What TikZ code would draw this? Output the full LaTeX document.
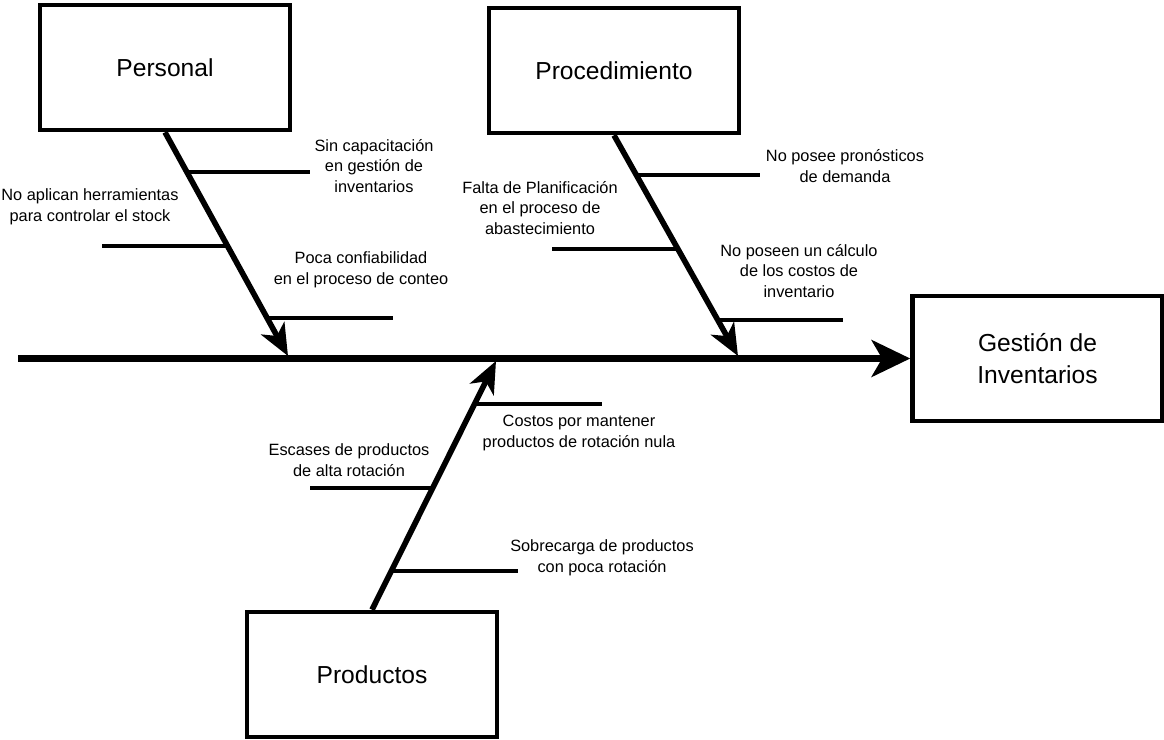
\documentclass[tikz,border=0pt]{standalone}
\usepackage{fontspec}
\setmainfont{Liberation Sans}
\usetikzlibrary{shapes,arrows.meta,positioning,calc}

\begin{document}
\begin{tikzpicture}[x=0.02cm,y=-0.02cm]
  \tikzstyle{causa}=[rectangle, draw, line width=2.6pt, minimum width=5cm, minimum height=2.5cm, font=\fontsize{14}{18}\selectfont, align=center]
  \tikzstyle{texto}=[align=center, font=\fontsize{9.3}{11.9}\selectfont, inner sep=0pt]
  \tikzstyle{espina}=[line width=3.6pt, -{Stealth[length=22pt, width=21pt, inset=6pt]}]
  \tikzstyle{hueso}=[line width=3.2pt, -{Stealth[length=18pt, width=15pt, inset=5pt]}]
  \tikzstyle{rama}=[line width=1.9pt]

  \useasboundingbox (0,0) rectangle (1164,740);

  % Cajas de causas y efecto
  \node[causa] (pers) at (165,67.5) {Personal};
  \node[causa] (proc) at (614,70.5) {Procedimiento};
  \node[causa] (prod) at (372,674.5) {Productos};
  \node[causa] (gest) at (1037.5,358.5) {Gestión de\\Inventarios};

  % Espina principal
  \coordinate (cola) at (18,358.5);
  \draw[espina] (cola) -- (gest.west);

  % Huesos
  \coordinate (pfin) at (288,356);
  \coordinate (rfin) at (738,356);
  \coordinate (dfin) at (496,361);
  \draw[hueso] (pers.south) -- (pfin);
  \draw[hueso] (proc.south) -- (rfin);
  \draw[hueso] (prod.north) -- (dfin);

  % Ramas de Personal
  \coordinate (pa1) at (188,172);  \coordinate (pe1) at (310,172);
  \coordinate (pa2) at (227,246);  \coordinate (pe2) at (102,246);
  \coordinate (pa3) at (267,318);  \coordinate (pe3) at (393,318);
  \draw[rama] (pa1) -- (pe1);
  \draw[rama] (pa2) -- (pe2);
  \draw[rama] (pa3) -- (pe3);
  \node[texto] (tp1) at (374,166) {Sin capacitación\\en gestión de\\inventarios};
  \node[texto] (tp2) at (90,207) {No aplican herramientas\\para controlar el stock};
  \node[texto] (tp3) at (361,270) {Poca confiabilidad\\en el proceso de conteo};

  % Ramas de Procedimiento
  \coordinate (ra1) at (638,175);  \coordinate (re1) at (760,175);
  \coordinate (ra2) at (679,249);  \coordinate (re2) at (552,249);
  \coordinate (ra3) at (718,320);  \coordinate (re3) at (843,320);
  \draw[rama] (ra1) -- (re1);
  \draw[rama] (ra2) -- (re2);
  \draw[rama] (ra3) -- (re3);
  \node[texto] (tr1) at (845,166) {No posee pronósticos\\de demanda};
  \node[texto] (tr2) at (540,208) {Falta de Planificación\\en el proceso de\\abastecimiento};
  \node[texto] (tr3) at (799,271) {No poseen un cálculo\\de los costos de\\inventario};

  % Ramas de Productos
  \coordinate (da1) at (476,404);  \coordinate (de1) at (602,404);
  \coordinate (da2) at (433,488);  \coordinate (de2) at (310,488);
  \coordinate (da3) at (393,571);  \coordinate (de3) at (518,571);
  \draw[rama] (da1) -- (de1);
  \draw[rama] (da2) -- (de2);
  \draw[rama] (da3) -- (de3);
  \node[texto] (td1) at (579,433) {Costos por mantener\\productos de rotación nula};
  \node[texto] (td2) at (349,460) {Escases de productos\\de alta rotación};
  \node[texto] (td3) at (602,558) {Sobrecarga de productos\\con poca rotación};
\end{tikzpicture}
\end{document}
